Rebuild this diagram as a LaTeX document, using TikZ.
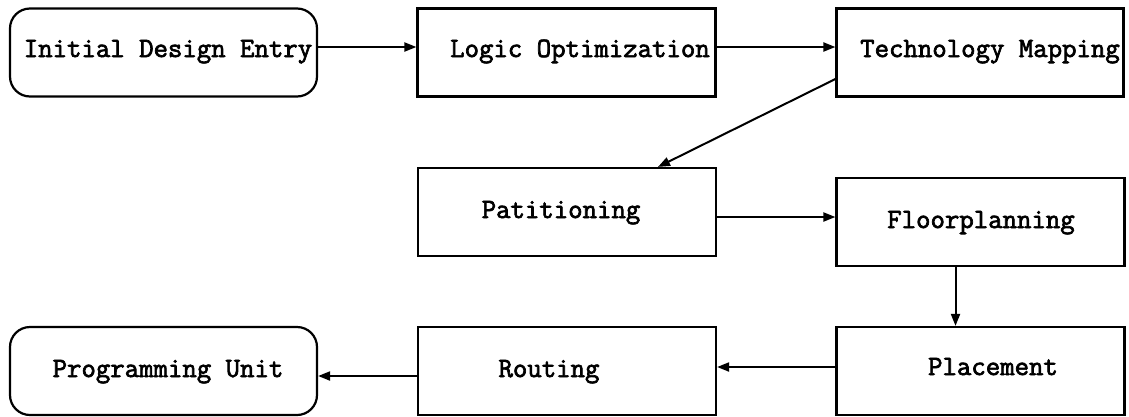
\documentclass[tikz,border=0pt]{standalone}
\usepackage{fontspec}
\setmonofont[AutoFakeBold=2.5]{Latin Modern Mono}
\usetikzlibrary{arrows.meta}
\begin{document}
\begin{tikzpicture}[x=1pt,y=-1pt,
  box/.style={draw=black,line width=2.2pt,minimum width=298pt,minimum height=88pt,inner sep=0pt},
  rbox/.style={box,minimum width=307pt,rounded corners=20pt},
  lbl/.style={anchor=base,inner sep=0pt,font=\fontsize{28}{32}\selectfont\ttfamily\bfseries},
  conn/.style={line width=2pt,-{Triangle[length=12pt,width=9pt]}}]
\useasboundingbox (0,0) rectangle (1129,416);
\node[rbox] (ide) at (163.5,52.5) {};
\node[box] (lo) at (566.5,52.5) {};
\node[box,minimum width=287pt] (tm) at (980,52.5) {};
\node[box] (pat) at (567,212) {};
\node[box,minimum width=288pt] (fp) at (980.5,222) {};
\node[box,minimum width=288pt] (pl) at (980.5,371) {};
\node[box] (rt) at (567,371) {};
\node[rbox] (pu) at (163.5,371) {};
\node[lbl] (ide-t) at (168,57) {Initial Design Entry};
\node[lbl] (lo-t) at (580,57) {Logic Optimization};
\node[lbl] (tm-t) at (990,57) {Technology Mapping};
\node[lbl] (pat-t) at (561,218) {Patitioning};
\node[lbl] (fp-t) at (981,228) {Floorplanning};
\node[lbl] (pl-t) at (993,375) {Placement};
\node[lbl] (rt-t) at (549,377) {Routing};
\node[lbl] (pu-t) at (168,377) {Programming Unit};
\draw[conn] ([yshift=5.5pt]ide.east) -- ([yshift=5.5pt]lo.west);
\draw[conn] ([yshift=5.5pt]lo.east) -- ([yshift=5.5pt]tm.west);
\draw[conn] ([yshift=-26.5pt]tm.west) -- ([xshift=91pt]pat.north);
\draw[conn] ([yshift=-5pt]pat.east) -- ([yshift=5pt]fp.west);
\draw[conn] ([xshift=-25pt]fp.south) -- ([xshift=-25pt]pl.north);
\draw[conn] ([yshift=4pt]pl.west) -- ([yshift=4pt]rt.east);
\draw[conn] ([yshift=-5pt]rt.west) -- ([yshift=-5pt]pu.east);
\end{tikzpicture}
\end{document}
